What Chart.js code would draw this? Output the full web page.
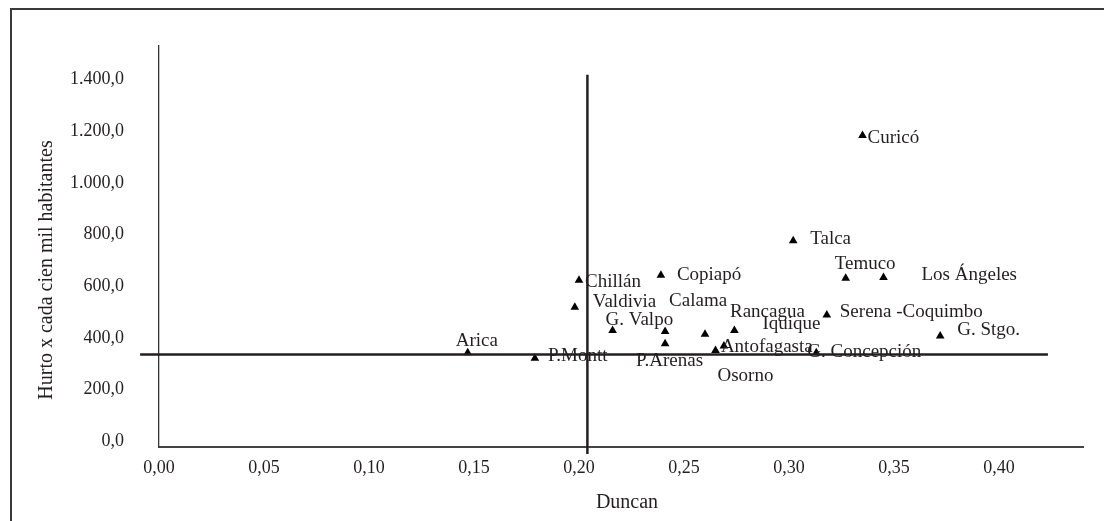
<!DOCTYPE html>
<html>
<head>
<meta charset="utf-8">
<script src="https://cdn.jsdelivr.net/npm/chart.js@4"></script>
<style>
    html, body { margin: 0; padding: 0; background: #fff; overflow: hidden; }
    #wrap { position: relative; width: 1104px; height: 521px; }
    #frame {
        position: absolute; left: 10px; top: 8px; right: -10px; bottom: -10px;
        border-left: 2px solid #3a3a3a; border-top: 2px solid #3a3a3a;
        pointer-events: none;
    }
</style>
</head>
<body>
<div id="wrap">
    <div id="frame"></div>
    <canvas id="chart" width="1104" height="521"></canvas>
</div>
<script>
// Cities, Duncan index (x) and thefts per 100k inhabitants (y)
const cities = [
    'Arica', 'P.Montt', 'Chillán', 'Valdivia', 'G. Valpo', 'Calama', 'P.Arenas',
    'Copiapó', 'Rancagua', 'Iquique', 'Antofagasta', 'Osorno', 'G. Concepción',
    'Serena -Coquimbo', 'G. Stgo.', 'Talca', 'Temuco', 'Los Ángeles', 'Curicó'
];
const duncan = [
    0.147, 0.179, 0.200, 0.198, 0.216, 0.241, 0.241,
    0.239, 0.260, 0.274, 0.269, 0.265, 0.313,
    0.318, 0.372, 0.302, 0.327, 0.345, 0.335
];
const hurto = [
    343, 321, 623, 519, 429, 425, 377,
    642, 414, 429, 369, 351, 343,
    489, 407, 776, 631, 634, 1183
];

// mean lines
const meanDuncan = 0.204;
const meanHurto = 336;

const xTicks = [0, 0.05, 0.10, 0.15, 0.20, 0.25, 0.30, 0.35, 0.40];
const yTicks = [0, 200, 400, 600, 800, 1000, 1200, 1400];

// where each city label sits relative to its marker (layout only)
const labelOffsets = [
    [-12, -12], [13, -2], [6, 2], [18, -5], [-7, -10], [4, -30], [-29, 17],
    [16, 0], [25, -22], [28, -6], [-3, 1], [2, 25], [-9, -1],
    [13, -3], [17, -6], [17, -2], [-11, -14], [38, -2], [5, 3]
];

const textColor = '#231f20';
const fontFamily = '"Liberation Serif", "Times New Roman", serif';

function fmtY(v) {
    const s = Math.round(v).toString().replace(/\B(?=(\d{3})+(?!\d))/g, '.');
    return s + ',0';
}
function fmtX(v) {
    return v.toFixed(2).replace('.', ',');
}

const points = cities.map((c, i) => ({ x: duncan[i], y: hurto[i] }));

const labelPlugin = {
    id: 'cityLabels',
    afterDatasetsDraw(chart) {
        const ctx = chart.ctx;
        const meta = chart.getDatasetMeta(2);
        ctx.save();
        ctx.font = '19px ' + fontFamily;
        ctx.fillStyle = textColor;
        ctx.textAlign = 'left';
        ctx.textBaseline = 'middle';
        meta.data.forEach((pt, i) => {
            const off = labelOffsets[i];
            ctx.fillText(cities[i], pt.x + off[0], pt.y + off[1]);
        });
        // axis titles
        ctx.font = '20px ' + fontFamily;
        ctx.textAlign = 'center';
        ctx.fillText('Duncan', 627, 503);
        ctx.translate(47, 270);
        ctx.rotate(-Math.PI / 2);
        ctx.fillText('Hurto x cada cien mil habitantes', 0, 0);
        ctx.restore();
    }
};

new Chart(document.getElementById('chart'), {
    type: 'scatter',
    data: {
        datasets: [
            {
                type: 'line',
                data: [{ x: meanDuncan, y: -49 }, { x: meanDuncan, y: 1418 }],
                borderColor: textColor,
                borderWidth: 2.5,
                pointRadius: 0,
                clip: false
            },
            {
                type: 'line',
                data: [{ x: -0.009, y: meanHurto }, { x: 0.4233, y: meanHurto }],
                borderColor: textColor,
                borderWidth: 2.5,
                pointRadius: 0,
                clip: false
            },
            {
                data: points,
                pointStyle: 'triangle',
                pointRadius: 5,
                backgroundColor: '#000',
                borderColor: '#000',
                borderWidth: 0
            }
        ]
    },
    options: {
        responsive: false,
        animation: false,
        layout: { padding: { top: 31, right: 21, bottom: 0, left: 0 } },
        plugins: {
            legend: { display: false },
            tooltip: { enabled: false }
        },
        scales: {
            x: {
                type: 'linear',
                min: 0,
                max: 0.44,
                grid: { display: false, drawTicks: false },
                border: { color: '#444', width: 2 },
                afterBuildTicks: (scale) => { scale.ticks = xTicks.map(v => ({ value: v })); },
                afterFit: (scale) => { scale.height = 74; },
                ticks: {
                    padding: 10,
                    color: textColor,
                    font: { family: fontFamily, size: 18 },
                    callback: (v) => fmtX(v),
                    maxRotation: 0
                }
            },
            y: {
                min: -22,
                max: 1530,
                grid: { display: false, drawTicks: false },
                border: { color: '#333', width: 1.3 },
                afterBuildTicks: (scale) => { scale.ticks = yTicks.map(v => ({ value: v })); },
                afterFit: (scale) => { scale.width = 159; },
                ticks: {
                    padding: 35,
                    color: textColor,
                    font: { family: fontFamily, size: 18 },
                    callback: (v) => fmtY(v)
                }
            }
        }
    },
    plugins: [labelPlugin]
});
</script>
</body>
</html>
